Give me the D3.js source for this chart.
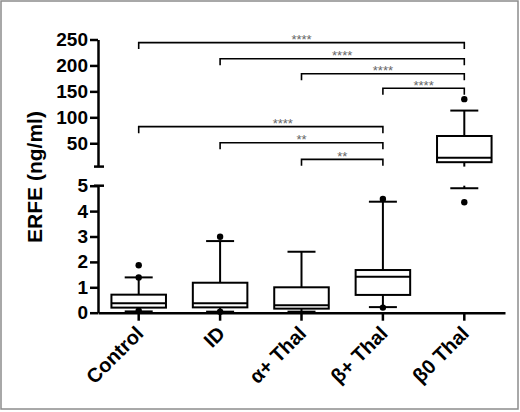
<!DOCTYPE html>
<html>
<head>
<meta charset="utf-8">
<script src="https://cdn.jsdelivr.net/npm/d3@7"></script>
<style>
  body { margin: 0; background: #fff; }
  svg { display: block; font-family: "Liberation Sans", Arial, sans-serif; }
  .axis path, .axis line { stroke: #000; stroke-width: 2.5; }
  .axis text { font-size: 19px; font-weight: bold; fill: #000; }
  .box { fill: #fff; stroke: #000; stroke-width: 2; }
  .wline { stroke: #000; stroke-width: 2; }
  .bracket { fill: none; stroke: #000; stroke-width: 1.6; }
  .stars { font-size: 13px; fill: #666; text-anchor: middle; }
</style>
</head>
<body>
<div id="chart"></div>
<script>
// categories and box statistics
const categories = ["Control", "ID", "\u03B1+ Thal", "\u03B2+ Thal", "\u03B20 Thal"];
const whiskerLow = [0.05, 0.04, 0.04, 0.22, 4.9];
const q1 = [0.2, 0.21, 0.16, 0.70, 13.5];
const median = [0.37, 0.37, 0.29, 1.42, 22];
const q3 = [0.71, 1.18, 1.0, 1.68, 64];
const whiskerHigh = [1.39, 2.82, 2.4, 4.37, 113];
const outliers = [[0.08, 1.39, 1.87], [0.04, 2.99], [], [0.2, 4.48], [4.35, 135]];

// axis ticks (broken y axis)
const lowTicks = [0, 1, 2, 3, 4, 5];
const highTicks = [50, 100, 150, 200, 250];

// significance comparisons
const compFrom = [0, 1, 2, 3, 0, 1, 2];
const compTo = [4, 4, 4, 4, 3, 3, 3];
const compLevel = [244, 213, 184, 156, 82, 51, 19];
const compLabel = ["****", "****", "****", "****", "****", "**", "**"];

const svgWidth = 520, svgHeight = 412;
const breakAt = 5;

document.addEventListener("DOMContentLoaded", function(){
  drawChart();
});

function drawChart(){
  const svg = d3.select("#chart").append("svg")
      .attr("width", svgWidth)
      .attr("height", svgHeight);

  // outer frame
  svg.append("rect")
     .attr("x", 1).attr("y", 1)
     .attr("width", 517).attr("height", 408)
     .attr("fill", "none")
     .attr("stroke", "#8c8c8c")
     .attr("stroke-width", 1.5);

  const xscale = d3.scaleBand().domain(categories).range([98, 505]);
  const yLow = d3.scaleLinear().domain([0, breakAt]).range([312.7, 185.7]);
  const yHigh = d3.scaleLinear().domain([breakAt, 250]).range([166.6, 39.5]);
  const yv = v => v <= breakAt ? yLow(v) : yHigh(v);
  const cx = d => xscale(d) + xscale.bandwidth() / 2;
  const boxW = xscale.bandwidth() * 0.67;
  const capW = 28;

  // y axes
  const ax0 = xscale.range()[0];
  svg.append("g")
     .attr("class", "axis")
     .attr("transform", "translate(" + ax0 + ",0)")
     .call(d3.axisLeft(yLow).tickValues(lowTicks).tickFormat(d3.format("d"))
       .tickSize(8).tickSizeOuter(0).tickPadding(2));

  svg.append("g")
     .attr("class", "axis")
     .attr("transform", "translate(" + ax0 + ",0)")
     .call(d3.axisLeft(yHigh).tickValues(highTicks).tickFormat(d3.format("d"))
       .tickSize(8).tickSizeOuter(0).tickPadding(2));

  // caps at the axis break
  [yHigh(breakAt), yLow(breakAt)].forEach(function(y){
    svg.append("line")
       .attr("x1", ax0 - 4).attr("x2", ax0 + 6)
       .attr("y1", y).attr("y2", y)
       .attr("stroke", "#000").attr("stroke-width", 2.5);
  });

  // x axis
  const xaxis = svg.append("g")
     .attr("class", "axis")
     .attr("transform", "translate(0," + yLow(0) + ")")
     .call(d3.axisBottom(xscale).tickSize(8).tickSizeOuter(0));

  xaxis.selectAll("text")
     .attr("text-anchor", "end")
     .attr("dy", null)
     .attr("y", 0)
     .style("font-size", "20px")
     .attr("transform", "translate(6,22)rotate(-45)");

  // y axis title
  svg.append("text")
     .attr("transform", "translate(42,177)rotate(-90)")
     .attr("text-anchor", "middle")
     .attr("font-size", 21)
     .attr("font-weight", "bold")
     .text("ERFE (ng/ml)");

  // vertical segment split across the break
  function vseg(x, a, b){
    const lo = Math.min(a, b), hi = Math.max(a, b);
    if (hi <= breakAt || lo >= breakAt){
      svg.append("line").attr("class", "wline")
         .attr("x1", x).attr("x2", x).attr("y1", yv(lo)).attr("y2", yv(hi));
    } else {
      svg.append("line").attr("class", "wline")
         .attr("x1", x).attr("x2", x).attr("y1", yLow(lo)).attr("y2", yLow(breakAt));
      svg.append("line").attr("class", "wline")
         .attr("x1", x).attr("x2", x).attr("y1", yHigh(breakAt)).attr("y2", yHigh(hi));
    }
  }

  // boxes
  categories.forEach(function(c, i){
    const x = cx(c);
    vseg(x, whiskerLow[i], q1[i]);
    vseg(x, q3[i], whiskerHigh[i]);

    [whiskerLow[i], whiskerHigh[i]].forEach(function(w){
      svg.append("line").attr("class", "wline")
         .attr("x1", x - capW / 2).attr("x2", x + capW / 2)
         .attr("y1", yv(w)).attr("y2", yv(w));
    });

    svg.append("rect").attr("class", "box")
       .attr("x", x - boxW / 2)
       .attr("y", yv(q3[i]))
       .attr("width", boxW)
       .attr("height", yv(q1[i]) - yv(q3[i]));

    svg.append("line").attr("class", "wline")
       .attr("x1", x - boxW / 2).attr("x2", x + boxW / 2)
       .attr("y1", yv(median[i])).attr("y2", yv(median[i]));

    svg.selectAll(null)
       .data(outliers[i])
       .enter().append("circle")
       .attr("cx", x)
       .attr("cy", d => yv(d))
       .attr("r", 3.2)
       .attr("fill", "#000");
  });

  // significance brackets
  const labelShift = [0, 0, 0, 0, 22, 0, 0];
  compLevel.forEach(function(lv, k){
    const xa = cx(categories[compFrom[k]]);
    const xb = cx(categories[compTo[k]]);
    const y = yHigh(lv);
    svg.append("path").attr("class", "bracket")
       .attr("d", "M" + xa + "," + (y + 6.5) + "V" + y + "H" + xb + "V" + (y + 6.5));
    svg.append("text").attr("class", "stars")
       .attr("x", (xa + xb) / 2 + labelShift[k])
       .attr("y", y + 1.5)
       .text(compLabel[k]);
  });
}
</script>
</body>
</html>
